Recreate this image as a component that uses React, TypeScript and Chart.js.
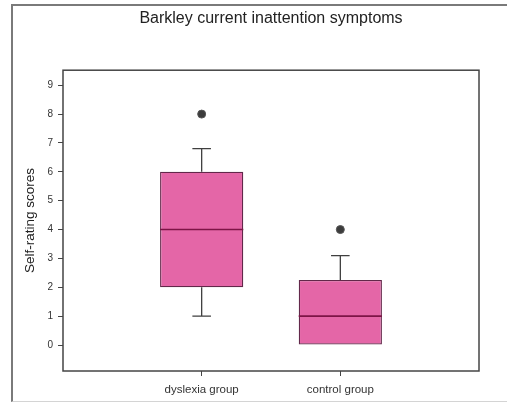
import React, { useEffect, useRef } from 'react';
import { Chart, registerables } from 'chart.js';

Chart.register(...registerables);

// Box-plot summary per group
const categories = ['dyslexia group', 'control group'];
const lowerWhisker = [1, 0];
const firstQuartile = [2, 0];
const medians = [4, 1];
const thirdQuartile = [6, 2.25];
const upperWhisker = [6.8, 3.1];
const outliers = [8, 4];
const yTicks = [0, 1, 2, 3, 4, 5, 6, 7, 8, 9];

const FONT = '"Liberation Sans", Arial, Helvetica, sans-serif';
const BOX_FILL = '#e466a7';
const BOX_EDGE = '#62284a';
const MEDIAN_COLOR = '#7d1446';
const WHISKER_COLOR = '#3f3f3f';
const CAP_HALF = 0.067; // half cap width, in x units

const boxPlotExtras = {
  id: 'boxPlotExtras',
  beforeDatasetsDraw(chart: any) {
    const { ctx } = chart;
    const x = chart.scales.x;
    const y = chart.scales.y;
    ctx.save();
    ctx.strokeStyle = WHISKER_COLOR;
    ctx.lineWidth = 1.3;
    categories.forEach((_, i) => {
      const cx = x.getPixelForValue(i + 1);
      const half = x.getPixelForValue(i + 1 + CAP_HALF) - cx;
      ctx.beginPath();
      if (lowerWhisker[i] < firstQuartile[i]) {
        const q1 = y.getPixelForValue(firstQuartile[i]);
        const lo = y.getPixelForValue(lowerWhisker[i]);
        ctx.moveTo(cx, q1);
        ctx.lineTo(cx, lo);
        ctx.moveTo(cx - half, lo);
        ctx.lineTo(cx + half, lo);
      }
      if (upperWhisker[i] > thirdQuartile[i]) {
        const q3 = y.getPixelForValue(thirdQuartile[i]);
        const hi = y.getPixelForValue(upperWhisker[i]);
        ctx.moveTo(cx, q3);
        ctx.lineTo(cx, hi);
        ctx.moveTo(cx - half, hi);
        ctx.lineTo(cx + half, hi);
      }
      ctx.stroke();
    });
    ctx.restore();
  },
  afterDatasetsDraw(chart: any) {
    const { ctx, chartArea } = chart;
    const y = chart.scales.y;
    const boxes = chart.getDatasetMeta(0).data;
    ctx.save();
    ctx.strokeStyle = MEDIAN_COLOR;
    ctx.lineWidth = 1.6;
    boxes.forEach((bar: any, i: number) => {
      const my = y.getPixelForValue(medians[i]);
      ctx.beginPath();
      ctx.moveTo(bar.x - bar.width / 2, my);
      ctx.lineTo(bar.x + bar.width / 2, my);
      ctx.stroke();
    });
    // plot frame
    ctx.strokeStyle = '#444';
    ctx.lineWidth = 1.5;
    ctx.strokeRect(
      chartArea.left,
      chartArea.top,
      chartArea.right - chartArea.left,
      chartArea.bottom - chartArea.top
    );
    ctx.restore();
  },
};

export default function App() {
  const canvasRef = useRef<HTMLCanvasElement | null>(null);

  useEffect(() => {
    const canvas = canvasRef.current;
    if (!canvas) return;

    const chart = new Chart(canvas, {
      type: 'bar',
      data: {
        datasets: [
          {
            type: 'bar',
            data: categories.map((_, i) => ({
              x: i + 1,
              y: [firstQuartile[i], thirdQuartile[i]],
            })) as any,
            backgroundColor: BOX_FILL,
            borderColor: BOX_EDGE,
            borderWidth: 1.3,
            borderSkipped: false,
            categoryPercentage: 1,
            barPercentage: 0.6,
            order: 2,
          } as any,
          {
            type: 'scatter',
            data: outliers.map((v, i) => ({ x: i + 1, y: v })),
            pointRadius: 4,
            pointBackgroundColor: '#3c3c3c',
            pointBorderColor: '#555',
            pointBorderWidth: 1,
            order: 1,
          } as any,
        ],
      },
      options: {
        animation: false,
        responsive: false,
        layout: { padding: { left: 19, right: 28, top: 0, bottom: 0 } },
        plugins: {
          legend: { display: false },
          tooltip: { enabled: false },
          title: {
            display: true,
            fullSize: false,
            text: 'Barkley current inattention symptoms',
            color: '#222',
            font: { family: FONT, size: 16, weight: 'normal' },
            padding: { top: 9, bottom: 42 },
          },
        },
        scales: {
          x: {
            type: 'linear',
            min: 0,
            max: 3,
            offset: false,
            afterBuildTicks: (s: any) => {
              s.ticks = categories.map((_, i) => ({ value: i + 1 }));
            },
            afterFit: (s: any) => {
              s.height = 34;
            },
            ticks: {
              callback: (v: any) => categories[Number(v) - 1] ?? '',
              color: '#333',
              font: { family: FONT, size: 11.5 },
              padding: 7,
              autoSkip: false,
              maxRotation: 0,
            },
            grid: {
              display: true,
              drawOnChartArea: false,
              drawTicks: true,
              tickLength: 5,
              color: '#444',
              offset: false,
            },
            border: { display: false },
          },
          y: {
            type: 'linear',
            min: -0.9,
            max: 9.52,
            afterBuildTicks: (s: any) => {
              s.ticks = yTicks.map((v) => ({ value: v }));
            },
            afterFit: (s: any) => {
              s.width = 44;
            },
            ticks: {
              color: '#333',
              font: { family: FONT, size: 10 },
              padding: 5,
            },
            grid: {
              display: true,
              drawOnChartArea: false,
              drawTicks: true,
              tickLength: 5,
              color: '#444',
            },
            border: { display: false },
            title: {
              display: true,
              text: 'Self-rating scores',
              color: '#222',
              font: { family: FONT, size: 13.5 },
              padding: { top: 3, bottom: 4 },
            },
          },
        },
      } as any,
      plugins: [boxPlotExtras],
    });

    return () => chart.destroy();
  }, []);

  return (
    <div style={{ position: 'absolute', left: 0, top: 0, width: 507, height: 405, background: '#fff' }}>
      <div
        style={{
          position: 'absolute',
          left: 11,
          top: 4,
          width: 496,
          height: 398,
          boxSizing: 'border-box',
          borderLeft: '2px solid #7a7a7a',
          borderTop: '2px solid #7a7a7a',
          borderBottom: '1px solid #d4d4d4',
        }}
      />
      <canvas
        ref={canvasRef}
        width={507}
        height={405}
        style={{ position: 'absolute', left: 0, top: 0, display: 'block' }}
      />
    </div>
  );
}
